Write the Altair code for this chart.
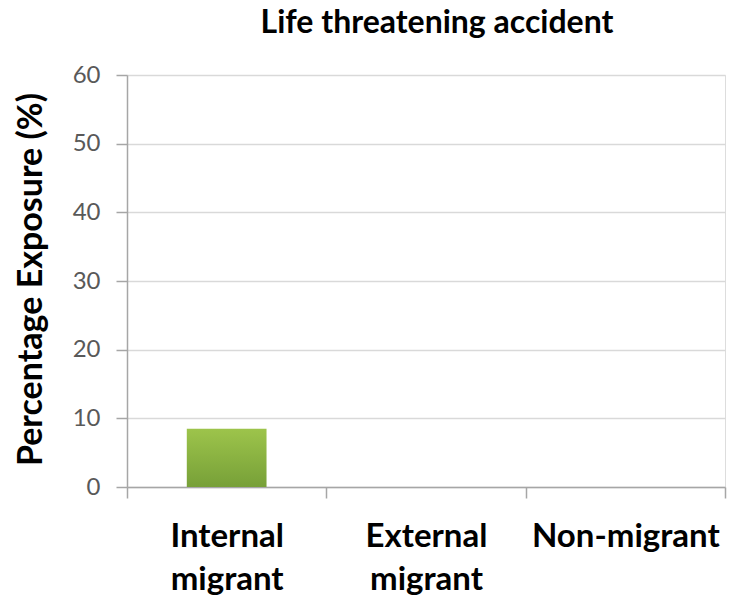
import altair as alt
import pandas as pd

categories = ["Internal migrant", "External migrant", "Non-migrant"]
values = [8.5, 0, 0]
y_ticks = [0, 10, 20, 30, 40, 50, 60]

df = pd.DataFrame({"group": categories, "pct": values})

FONT = "Lato"
AXIS_GRAY = "#a6a6a6"

bars = alt.Chart(df).mark_bar(
    width=alt.RelativeBandSize(0.4),
    color=alt.Gradient(
        gradient="linear",
        stops=[alt.GradientStop(color="#9dc44b", offset=0),
               alt.GradientStop(color="#77a038", offset=1)],
        x1=0, x2=0, y1=0, y2=1,
    ),
).encode(
    x=alt.X("group:N", sort=categories,
            scale=alt.Scale(paddingInner=0, paddingOuter=0),
            axis=alt.Axis(title=None, labelAngle=0, tickBand="extent",
                          labelExpr="split(datum.label, ' ')",
                          labelFont=FONT, labelFontSize=33, labelFontWeight="bold",
                          labelColor="#000000", labelLineHeight=43,
                          labelPadding=22, labelBaseline="top", labelLimit=400,
                          tickSize=11, tickColor=AXIS_GRAY, tickWidth=1.5,
                          domainColor=AXIS_GRAY, domainWidth=1.5, grid=False)),
    y=alt.Y("pct:Q", scale=alt.Scale(domain=[0, 60], nice=False),
            axis=alt.Axis(values=y_ticks, title="Percentage Exposure (%)",
                          titleFont=FONT, titleFontSize=34, titleFontWeight="bold",
                          titleColor="#000000", titleAngle=270,
                          titleAlign="center", titleBaseline="alphabetic",
                          titleX=-86, titleY=204,
                          labelFont=FONT, labelFontSize=24, labelColor="#595959",
                          labelPadding=16, tickSize=11, tickColor=AXIS_GRAY,
                          tickWidth=1.5, domainColor=AXIS_GRAY, domainWidth=1.5,
                          grid=True, gridColor="#d9d9d9", gridWidth=1.5)),
)

chart = bars.properties(
    width=598,
    height=412,
    title=alt.TitleParams("Life threatening accident", font=FONT, fontSize=32,
                          fontWeight="bold", color="#000000", anchor="middle",
                          frame="group", baseline="alphabetic", offset=10,
                          dx=11, dy=12),
    autosize=alt.AutoSizeParams(type="none"),
    padding={"left": 119, "top": 67, "right": 6, "bottom": 124},
).configure_view(stroke=None).configure(background="white")

chart.save("out.html", embed_options={"renderer": "svg", "actions": False})
